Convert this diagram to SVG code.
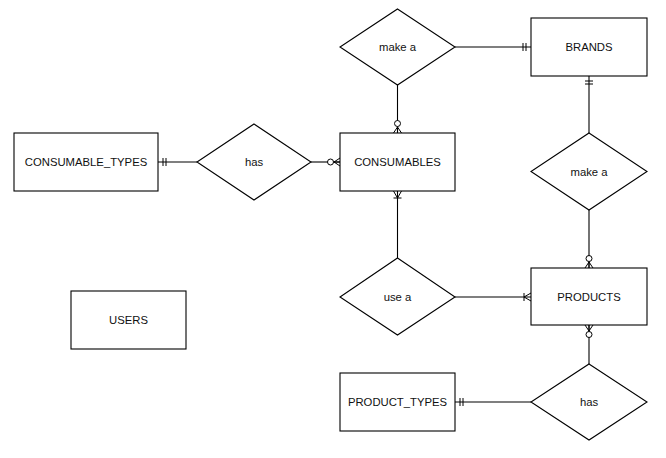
<svg xmlns="http://www.w3.org/2000/svg" width="666" height="458" viewBox="0 0 666 458">
<style>
.ent{fill:#fff;stroke:#000;stroke-width:1.1}
.rel{fill:#fff;stroke:#000;stroke-width:1.1}
.lbl{font-family:"Liberation Sans",Arial,sans-serif;font-size:11.3px;fill:#111;text-anchor:middle;dominant-baseline:central}
.cn{fill:none;stroke:#000;stroke-width:1.1}
.mk{fill:none;stroke:#000;stroke-width:1}
</style>
<defs>
<marker id="one" markerUnits="userSpaceOnUse" viewBox="-14 -7 16 14" refX="0" refY="0" markerWidth="16" markerHeight="14" orient="auto" overflow="visible">
<path class="mk" d="M-8,-4V4M-5,-4V4"/>
</marker>
<marker id="zeroMany" markerUnits="userSpaceOnUse" viewBox="-14 -7 16 14" refX="0" refY="0" markerWidth="16" markerHeight="14" orient="auto" overflow="visible">
<path class="mk" d="M-6,0L0,-4M-6,0L0,4M-6,0H0"/>
<circle cx="-9.5" cy="0" r="3" fill="#fff" stroke="#000" stroke-width="1"/>
</marker>
<marker id="oneMany" markerUnits="userSpaceOnUse" viewBox="-14 -7 16 14" refX="0" refY="0" markerWidth="16" markerHeight="14" orient="auto" overflow="visible">
<path class="mk" d="M-7,0L0,-4M-7,0L0,4M-7,-4V4"/>
</marker>
</defs>
<rect width="666" height="458" fill="#fff"/>
<g id="connectors">
<path class="cn" d="M455,47H531" marker-end="url(#one)"/>
<path class="cn" d="M397.5,85V133" marker-end="url(#zeroMany)"/>
<path class="cn" d="M589,133V76" marker-end="url(#one)"/>
<path class="cn" d="M589,210V268" marker-end="url(#zeroMany)"/>
<path class="cn" d="M197,162H158" marker-end="url(#one)"/>
<path class="cn" d="M311,162H340" marker-end="url(#zeroMany)"/>
<path class="cn" d="M397.5,258V191" marker-end="url(#oneMany)"/>
<path class="cn" d="M455,297H531" marker-end="url(#oneMany)"/>
<path class="cn" d="M589,364V325" marker-end="url(#zeroMany)"/>
<path class="cn" d="M531,402H455" marker-end="url(#one)"/>
</g>
<g id="BRANDS"><rect class="ent" x="531" y="18" width="116" height="58"/><text class="lbl" x="589" y="47">BRANDS</text></g>
<g id="CONSUMABLE_TYPES"><rect class="ent" x="14" y="133" width="144" height="58"/><text class="lbl" x="86" y="162">CONSUMABLE_TYPES</text></g>
<g id="CONSUMABLES"><rect class="ent" x="340" y="133" width="115" height="58"/><text class="lbl" x="397.5" y="162">CONSUMABLES</text></g>
<g id="USERS"><rect class="ent" x="71" y="291" width="115" height="58"/><text class="lbl" x="128.5" y="320">USERS</text></g>
<g id="PRODUCTS"><rect class="ent" x="531" y="268" width="116" height="57"/><text class="lbl" x="589" y="297">PRODUCTS</text></g>
<g id="PRODUCT_TYPES"><rect class="ent" x="340" y="373" width="115" height="58"/><text class="lbl" x="397.5" y="402">PRODUCT_TYPES</text></g>
<g id="rel_make_a_consumables"><polygon class="rel" points="397.5,9 455,47 397.5,85 340,47"/><text class="lbl" x="397.5" y="47">make a</text></g>
<g id="rel_has_consumables"><polygon class="rel" points="254,124 311,162 254,200 197,162"/><text class="lbl" x="254" y="162">has</text></g>
<g id="rel_make_a_products"><polygon class="rel" points="589,133 647,171.5 589,210 531,171.5"/><text class="lbl" x="589" y="171.5">make a</text></g>
<g id="rel_use_a"><polygon class="rel" points="397.5,258 455,297 397.5,335 340,297"/><text class="lbl" x="397.5" y="297">use a</text></g>
<g id="rel_has_products"><polygon class="rel" points="589,364 647,402 589,440 531,402"/><text class="lbl" x="589" y="402">has</text></g>
</svg>
